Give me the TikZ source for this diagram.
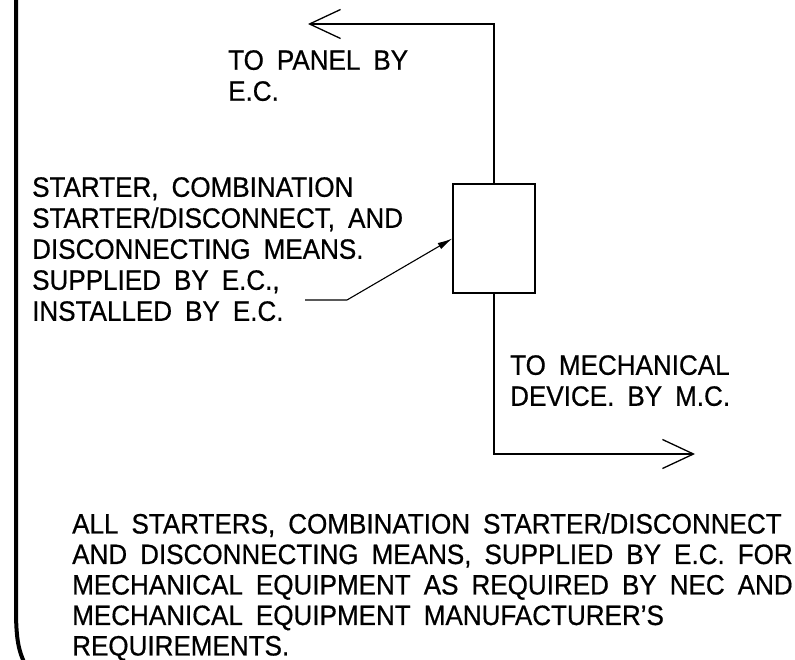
\documentclass[tikz,border=0pt]{standalone}
\usepackage{fontspec}
\setmainfont[FakeStretch=0.93, WordSpace={1.8,0,0}, FakeBold=0.6]{Liberation Sans}
\usepackage{tikz}
\usetikzlibrary{arrows.meta}

\tikzset{
	testo/.style={anchor=north west, inner sep=0pt, align=left, font=\fontsize{28}{31}\selectfont},
	barb/.style={-{Straight Barb[length=31pt, width=29pt, line width=1.3pt]}, line width=1.3pt},
	richiamo/.style={-{Latex[length=15pt, width=7pt]}, line width=1.1pt}
}

\begin{document}
\begin{tikzpicture}[x=1pt, y=-1pt]
		\useasboundingbox (0,0) rectangle (795,660);
		%Bordo
		\draw [line width=4pt] (16,0) -- (16,610) .. controls (16,640) and (19,652) .. (25,664);
		%Avviatore
		\node [draw, line width=1.2pt, minimum width=82pt, minimum height=109pt, inner sep=0pt] (avviatore) at (494,238.5) {};
		\coordinate (quadro) at (308,24);
		\coordinate (dispositivo) at (695,454);
		\coordinate (richiamo) at (305,300);
		%Linee
		\draw [barb] (avviatore.north) |- (quadro);
		\draw [barb] (avviatore.south) |- (dispositivo);
		\draw [richiamo] (richiamo) -- ++(42,0) -- (avviatore.west);
		%Testi
		\node [testo] (tpanel) at (228,50) {TO PANEL BY\\E.C.};
		\node [testo] (tstarter) at (32,177) {STARTER, COMBINATION\\STARTER/DISCONNECT, AND\\DISCONNECTING MEANS.\\SUPPLIED BY E.C.,\\INSTALLED BY E.C.};
		\node [testo] (tdevice) at (510,355) {TO MECHANICAL\\DEVICE. BY M.C.};
		\node [testo, font=\fontsize{28}{30.5}\selectfont] (tnote) at (72,513) {ALL STARTERS, COMBINATION STARTER/DISCONNECT\\AND DISCONNECTING MEANS, SUPPLIED BY E.C. FOR\\MECHANICAL EQUIPMENT AS REQUIRED BY NEC AND\\MECHANICAL EQUIPMENT MANUFACTURER'S\\REQUIREMENTS.};
	\end{tikzpicture}
\end{document}
